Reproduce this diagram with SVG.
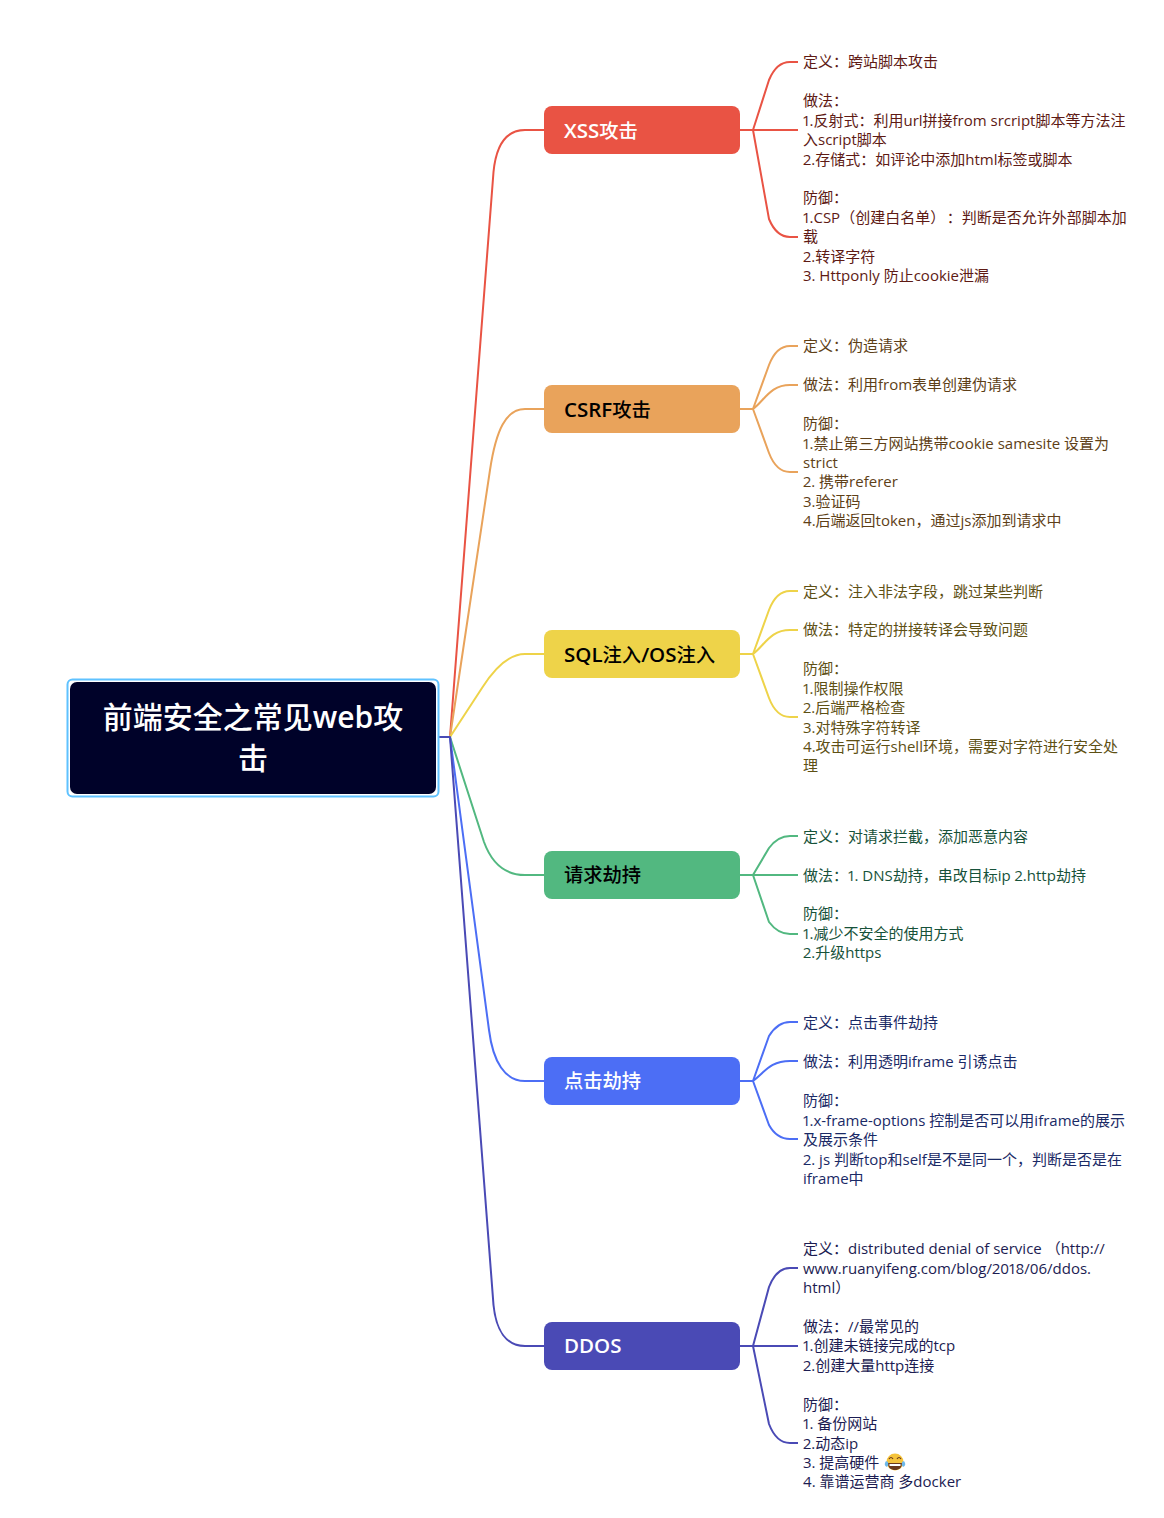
<svg xmlns="http://www.w3.org/2000/svg" width="1164" height="1518" viewBox="0 0 1164 1518">
<style>
text{font-family:"Open Sans","Noto Sans CJK SC",sans-serif;font-variant-numeric:proportional-nums}
.c{fill:none;stroke-width:2;stroke-linejoin:round}
.t{font-size:15px}
.n{font-size:19.300px;font-weight:500}
.l{font-size:20.500px;font-weight:600}
.root{font-size:30px;font-weight:500;fill:#fff;text-anchor:middle}
.b{font-weight:600}
.xss{stroke:#e95344}.csrf{stroke:#e9a35b}.sql{stroke:#eed349}.req{stroke:#52b880}.clk{stroke:#4c6ef5}.ddos{stroke:#4a4ab5}
</style>
<rect width="1164" height="1518" fill="#fff"/>
<g id="connectors">
<path class="c xss" d="M450 737L493.500 172C496 146 506 130 525 130H544M740 130H753M753 130L769 80C774 68 781 62 790 62H798M753 130H798M753 130L769 219C774 231 781 237 790 237H798"/>
<path class="c csrf" d="M450 737L490 470C496 430 506 409 525 409H544M740 409H753M753 409L769 365C774 352 781 346 790 346H798M753 409C765 400 770 385 790 385H798M753 409L769 453C774 466 781 472 790 472H798"/>
<path class="c sql" d="M450 737L482 688C496 666 510 654 525 654H544M740 654H753M753 654L769 610C774 597 781 591 790 591H798M753 654C765 645 770 630 790 630H798M753 654L769 698C774 711 781 717 790 717H798"/>
<path class="c req" d="M450 737L484 842C492 864 505 875 525 875H544M740 875H753M753 875L769 848C775 840 781 836 790 836H798M753 875H798M753 875L769 922C775 930 781 934 790 934H798"/>
<path class="c clk" d="M450 737L489 1030C493 1062 505 1081 525 1081H544M740 1081H753M753 1081L769 1036C774 1028 781 1022 790 1022H798M753 1081C765 1072 770 1061 790 1061H798M753 1081L769 1125C774 1134 781 1139 790 1139H798"/>
<path class="c ddos" d="M438 737H450L493.500 1305C496 1330 506 1346 525 1346H544M740 1346H753M753 1346L769 1287C774 1274 781 1268 790 1268H798M753 1346H798M753 1346L769 1424C774 1437 781 1443 790 1443H798"/>
</g>
<g id="root">
<rect x="67.500" y="679.500" width="371" height="117" rx="5" fill="#fff" stroke="#5fc2ff" stroke-width="2"/>
<rect x="70" y="682" width="366" height="112" rx="7" fill="#000229"/>
<text class="root" x="253" y="728">前端安全之常见<tspan class="b">web</tspan>攻</text>
<text class="root" x="253" y="769">击</text>
</g>
<g id="node-xss">
<rect x="544" y="106" width="196" height="48" rx="8" fill="#e95344"/>
<text class="n" x="564" y="138" fill="#fff"><tspan class="l">XSS</tspan>攻击</text>
<text class="t" fill="#5e1a14"><tspan x="803" y="67">定义&#xFF1A;跨站脚本攻击</tspan><tspan x="803" y="106">做法&#xFF1A;</tspan><tspan x="803" y="126">1.反射式&#xFF1A;利用url拼接from srcript脚本等方法注</tspan><tspan x="803" y="145">入script脚本</tspan><tspan x="803" y="165">2.存储式&#xFF1A;如评论中添加html标签或脚本</tspan><tspan x="803" y="203">防御&#xFF1A;</tspan><tspan x="803" y="223">1.CSP&#xFF08;创建白名单&#xFF09;<tspan dx="9">&#xFF1A;判断是否允许外部脚本加</tspan></tspan><tspan x="803" y="242">载</tspan><tspan x="803" y="262">2.转译字符</tspan><tspan x="803" y="281">3. Httponly 防止cookie泄漏</tspan></text>
</g>
<g id="node-csrf">
<rect x="544" y="385" width="196" height="48" rx="8" fill="#e9a35b"/>
<text class="n" x="564" y="417" fill="#000"><tspan class="l">CSRF</tspan>攻击</text>
<text class="t" fill="#5e3f17"><tspan x="803" y="351">定义&#xFF1A;伪造请求</tspan><tspan x="803" y="390">做法&#xFF1A;利用from表单创建伪请求</tspan><tspan x="803" y="429">防御&#xFF1A;</tspan><tspan x="803" y="449">1.禁止第三方网站携带cookie samesite 设置为</tspan><tspan x="803" y="468">strict</tspan><tspan x="803" y="487">2. 携带referer</tspan><tspan x="803" y="507">3.验证码</tspan><tspan x="803" y="526">4.后端返回token&#xFF0C;通过js添加到请求中</tspan></text>
</g>
<g id="node-sql">
<rect x="544" y="630" width="196" height="48" rx="8" fill="#eed349"/>
<text class="n" x="564" y="662" fill="#000"><tspan class="l">SQL</tspan>注入<tspan class="l">/OS</tspan>注入</text>
<text class="t" fill="#5e5014"><tspan x="803" y="597">定义&#xFF1A;注入非法字段&#xFF0C;跳过某些判断</tspan><tspan x="803" y="635">做法&#xFF1A;特定的拼接转译会导致问题</tspan><tspan x="803" y="674">防御&#xFF1A;</tspan><tspan x="803" y="694">1.限制操作权限</tspan><tspan x="803" y="713">2.后端严格检查</tspan><tspan x="803" y="733">3.对特殊字符转译</tspan><tspan x="803" y="752">4.攻击可运行shell环境&#xFF0C;需要对字符进行安全处</tspan><tspan x="803" y="771">理</tspan></text>
</g>
<g id="node-req">
<rect x="544" y="851" width="196" height="48" rx="8" fill="#52b880"/>
<text class="n" x="564" y="882" fill="#000">请求劫持</text>
<text class="t" fill="#17523a"><tspan x="803" y="842">定义&#xFF1A;对请求拦截&#xFF0C;添加恶意内容</tspan><tspan x="803" y="881">做法&#xFF1A;1. DNS劫持&#xFF0C;串改目标ip 2.http劫持</tspan><tspan x="803" y="919">防御&#xFF1A;</tspan><tspan x="803" y="939">1.减少不安全的使用方式</tspan><tspan x="803" y="958">2.升级https</tspan></text>
</g>
<g id="node-clk">
<rect x="544" y="1057" width="196" height="48" rx="8" fill="#4c6ef5"/>
<text class="n" x="564" y="1088" fill="#fff">点击劫持</text>
<text class="t" fill="#1a2a66"><tspan x="803" y="1028">定义&#xFF1A;点击事件劫持</tspan><tspan x="803" y="1067">做法&#xFF1A;利用透明iframe 引诱点击</tspan><tspan x="803" y="1106">防御&#xFF1A;</tspan><tspan x="803" y="1126">1.x-frame-options 控制是否可以用iframe的展示</tspan><tspan x="803" y="1145">及展示条件</tspan><tspan x="803" y="1165">2. js 判断top和self是不是同一个&#xFF0C;判断是否是在</tspan><tspan x="803" y="1184">iframe中</tspan></text>
</g>
<g id="node-ddos">
<rect x="544" y="1322" width="196" height="48" rx="8" fill="#4a4ab5"/>
<text class="n" x="564" y="1353" fill="#fff"><tspan class="l">DDOS</tspan></text>
<text class="t" fill="#1c1c52"><tspan x="803" y="1254">定义&#xFF1A;distributed denial of service &#xFF08;http://</tspan><tspan x="803" y="1274">www.ruanyifeng.com/blog/2018/06/ddos.</tspan><tspan x="803" y="1293">html&#xFF09;</tspan><tspan x="803" y="1332">做法&#xFF1A;//最常见的</tspan><tspan x="803" y="1351">1.创建未链接完成的tcp</tspan><tspan x="803" y="1371">2.创建大量http连接</tspan><tspan x="803" y="1410">防御&#xFF1A;</tspan><tspan x="803" y="1429">1. 备份网站</tspan><tspan x="803" y="1449">2.动态ip</tspan><tspan x="803" y="1468">3. 提高硬件</tspan><tspan x="803" y="1487">4. 靠谱运营商 多docker</tspan></text>
<g id="laughing-face">
<circle cx="895" cy="1462" r="8.500" fill="#f5c33b"/>
<path d="M888 1463H902C902 1468 899 1470 895 1470C891 1470 888 1468 888 1463Z" fill="#6b3a1e"/>
<path d="M889.500 1464H900.500V1466H889.500Z" fill="#fff"/>
<path d="M889 1459Q891 1456 893 1459M897 1459Q899 1456 901 1459" fill="none" stroke="#6b3a1e" stroke-width="1.200"/>
<path d="M886 1461Q883 1465 887 1467Q889 1465 888 1462ZM904 1461Q907 1465 903 1467Q901 1465 902 1462Z" fill="#6cb8ea"/>
</g>
</g>
</svg>
